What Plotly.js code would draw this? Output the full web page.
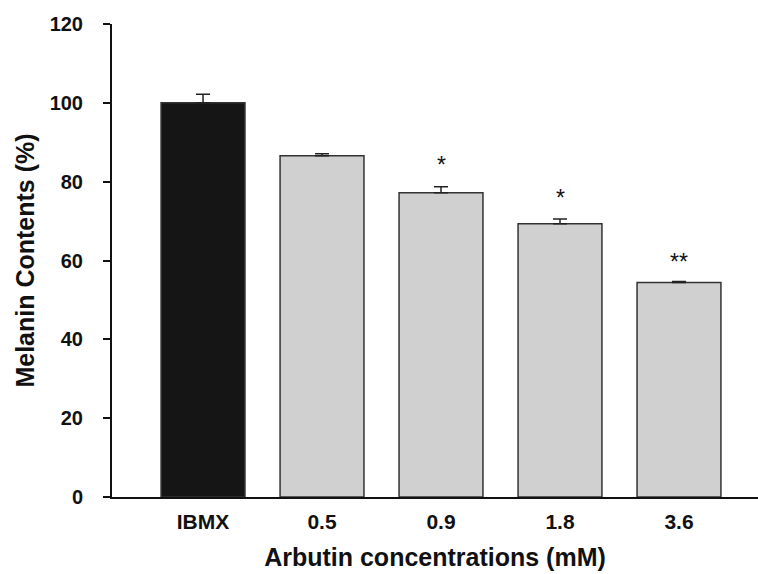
<!DOCTYPE html>
<html>
<head>
<meta charset="utf-8">
<script src="https://cdn.plot.ly/plotly-3.0.1.min.js"></script>
<style>html,body{margin:0;padding:0;background:#fff;}#chart{width:758px;height:574px;}</style>
</head>
<body>
<div id="chart"></div>
<script>
const categories = ["IBMX", "0.5", "0.9", "1.8", "3.6"];
const melanin = [100.0, 86.6, 77.2, 69.3, 54.4];
const errUp = [2.2, 0.5, 1.5, 1.2, 0.3];
const barColors = ["#151515", "#d0d0d0", "#d0d0d0", "#d0d0d0", "#d0d0d0"];
const sigLabels = ["", "", "*", "*", "**"];
const sigY = [0, 0, 85.4, 77.2, 60.9];
const yTicks = [0, 20, 40, 60, 80, 100, 120];

const xIdx = categories.map((c, i) => i);

const trace = {
  type: "bar",
  x: xIdx,
  y: melanin,
  width: 0.705,
  marker: { color: barColors, line: { color: "#333333", width: 1.5 } },
  error_y: { type: "data", array: errUp, arrayminus: errUp.map(() => 0), symmetric: false,
             visible: true, color: "#222222", thickness: 1.5, width: 7 },
  hoverinfo: "none"
};

const annotations = [];
sigLabels.forEach((s, i) => {
  if (s) annotations.push({ x: i, y: sigY[i], xref: "x", yref: "y", text: s, showarrow: false,
    yanchor: "middle", yshift: -5, font: { family: "Liberation Sans, Arial, sans-serif", size: 23, color: "#111" } });
});

const layout = {
  width: 758, height: 574,
  margin: { l: 112, r: 0, t: 24, b: 77 },
  paper_bgcolor: "#fff", plot_bgcolor: "#fff",
  showlegend: false,
  font: { family: "Liberation Sans, Arial, sans-serif", color: "#111" },
  xaxis: {
    range: [-0.765, 4.664], tickmode: "array", tickvals: xIdx, ticktext: categories,
    showgrid: false, zeroline: false, showline: true, linewidth: 2, linecolor: "#111",
    ticks: "", ticklabelstandoff: 5, tickfont: { size: 21, weight: "bold", color: "#111" },
    title: { text: "Arbutin concentrations (mM)", font: { size: 25, weight: "bold", color: "#111" }, standoff: 16 }
  },
  yaxis: {
    range: [0, 120], tickmode: "array", tickvals: yTicks,
    showgrid: false, zeroline: false, showline: true, linewidth: 2, linecolor: "#111",
    ticks: "outside", ticklen: 7, tickwidth: 2, tickcolor: "#111", ticklabelstandoff: 16,
    tickfont: { size: 20, weight: "bold", color: "#111" },
    title: { text: "Melanin Contents (%)", font: { size: 25, weight: "bold", color: "#111" }, standoff: 8 }
  },
  annotations: annotations
};

Plotly.newPlot("chart", [trace], layout, { displayModeBar: false, staticPlot: true });
</script>
</body>
</html>
